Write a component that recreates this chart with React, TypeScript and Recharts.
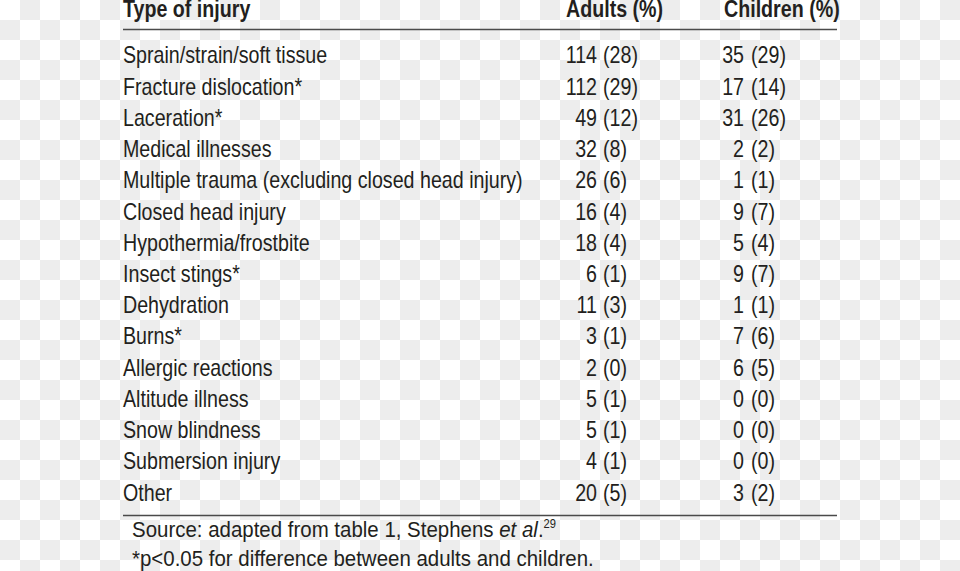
import React from "react";
import { ComposedChart, Bar, XAxis, YAxis, Customized } from "recharts";

const headers = ["Type of injury", "Adults (%)", "Children (%)"];
const injuries = [
  "Sprain/strain/soft tissue",
  "Fracture dislocation*",
  "Laceration*",
  "Medical illnesses",
  "Multiple trauma (excluding closed head injury)",
  "Closed head injury",
  "Hypothermia/frostbite",
  "Insect stings*",
  "Dehydration",
  "Burns*",
  "Allergic reactions",
  "Altitude illness",
  "Snow blindness",
  "Submersion injury",
  "Other",
];
const adultsN = [114, 112, 49, 32, 26, 16, 18, 6, 11, 3, 2, 5, 5, 4, 20];
const adultsPct = [28, 29, 12, 8, 6, 4, 4, 1, 3, 1, 0, 1, 1, 1, 5];
const childrenN = [35, 17, 31, 2, 1, 9, 5, 9, 1, 7, 6, 0, 0, 0, 3];
const childrenPct = [29, 14, 26, 2, 1, 7, 4, 7, 1, 6, 5, 0, 0, 0, 2];
const footSource = "Source: adapted from table 1, Stephens ";
const footEtAl = "et al";
const footRef = "29";
const footNote = "*p<0.05 for difference between adults and children.";

const data = injuries.map((name, i) => ({
  name,
  adults: adultsN[i],
  children: childrenN[i],
}));

const FONT = "'Liberation Sans', Arial, sans-serif";
const INK = "#231f20";
const FS = 23;
const SX = 0.855;

const T = (p: any) => {
  const { x, y, anchor = "start", size = FS, weight = "normal", sx = SX, children } = p;
  return (
    <text
      transform={`translate(${x},${y}) scale(${sx},1)`}
      textAnchor={anchor}
      fontFamily={FONT}
      fontSize={size}
      fontWeight={weight}
      fill={INK}
    >
      {children}
    </text>
  );
};

const RowTick = (props: any) => {
  const { y, payload } = props;
  const i = injuries.indexOf(payload.value);
  const by = y + 8.3;
  return (
    <g>
      <T x={123} y={by}>{injuries[i]}</T>
      <T x={597} y={by} anchor="end">{adultsN[i]}</T>
      <T x={603} y={by}>({adultsPct[i]})</T>
      <T x={744} y={by} anchor="end">{childrenN[i]}</T>
      <T x={751} y={by}>({childrenPct[i]})</T>
    </g>
  );
};

const Frame = () => (
  <g>
    <T x={123} y={16.7} weight="bold">{headers[0]}</T>
    <T x={566} y={16.7} weight="bold">{headers[1]}</T>
    <T x={724} y={16.7} weight="bold">{headers[2]}</T>
    <line x1={123} x2={837} y1={29.5} y2={29.5} stroke="#4a4a4a" strokeWidth={1.3} />
    <line x1={123} x2={837} y1={515.5} y2={515.5} stroke="#4a4a4a" strokeWidth={1.3} />
    <T x={132} y={537.3} size={22} sx={0.93}>
      {footSource}
      <tspan fontStyle="italic">{footEtAl}</tspan>
      .
      <tspan fontSize={12} dy={-9}>{footRef}</tspan>
    </T>
    <T x={132} y={566} size={22} sx={0.93}>{footNote}</T>
  </g>
);

export default function App() {
  return (
    <div
      style={{
        position: "absolute",
        left: 0,
        top: 0,
        width: 960,
        height: 571,
        background: "repeating-conic-gradient(#ededed 0 25%, #ffffff 0 50%) 0 0 / 40px 40px",
      }}
    >
      <ComposedChart
        width={960}
        height={571}
        data={data}
        layout="vertical"
        margin={{ top: 39.4, bottom: 63, left: 0, right: 0 }}
      >
        <XAxis type="number" hide domain={[0, 200]} />
        <YAxis
          type="category"
          dataKey="name"
          width={120}
          interval={0}
          axisLine={false}
          tickLine={false}
          tick={(p: any) => <RowTick {...p} />}
        />
        <Bar dataKey="adults" fill="transparent" isAnimationActive={false} />
        <Customized component={Frame} />
      </ComposedChart>
    </div>
  );
}
